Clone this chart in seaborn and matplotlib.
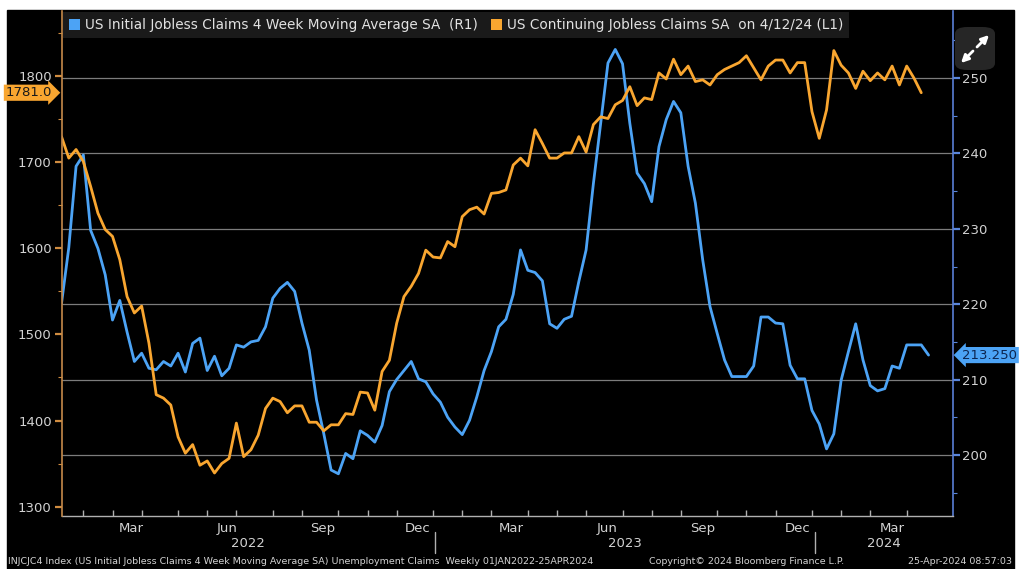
import pandas as pd
import matplotlib
matplotlib.use('Agg')
import matplotlib.pyplot as plt
from matplotlib.patches import Patch, Rectangle, FancyBboxPatch, FancyArrowPatch
from matplotlib.ticker import MultipleLocator
import matplotlib.transforms as mtransforms
import seaborn as sns

# weekly data, Fridays. continuing claims stop one week earlier (on 4/12/24)
dates = pd.date_range('2022-01-07', '2024-04-19', freq='W-FRI')

# US initial jobless claims, 4 week moving average SA (thousands) -> right axis
initial_4wk = [
    220.1, 227.5, 238.3, 239.8, 229.8, 227.4, 223.9, 217.9, 220.5, 216.3,
    212.4, 213.5, 211.5, 211.3, 212.4, 211.8, 213.5, 211.0, 214.8, 215.5,
    211.2, 213.1, 210.5, 211.5, 214.6, 214.3, 215.0, 215.2, 217.0, 220.8,
    222.1, 222.9, 221.7, 217.5, 213.9, 207.3, 202.8, 198.0, 197.5, 200.2,
    199.5, 203.2, 202.6, 201.7, 203.9, 208.4, 210.0, 211.2, 212.4, 210.1,
    209.7, 208.1, 207.0, 205.0, 203.7, 202.7, 204.6, 207.7, 211.2, 213.7,
    217.0, 218.0, 221.3, 227.2, 224.5, 224.2, 223.1, 217.4, 216.8, 218.0,
    218.4, 223.0, 227.2, 236.0, 244.0, 252.0, 253.8, 251.9, 244.0, 237.4,
    236.0, 233.6, 240.9, 244.5, 246.9, 245.4, 238.3, 233.4, 225.9, 219.7,
    216.1, 212.6, 210.4, 210.4, 210.4, 211.8, 218.3, 218.3, 217.5, 217.4,
    211.9, 210.1, 210.1, 205.9, 204.1, 200.8, 202.8, 209.9, 213.7, 217.4,
    212.6, 209.2, 208.5, 208.8, 211.8, 211.5, 214.6, 214.6, 214.6, 213.25,
]

# US continuing jobless claims SA (thousands) -> left axis
continuing = [
    1730, 1705, 1715, 1701, 1672, 1641, 1622, 1614, 1587, 1544,
    1525, 1533, 1490, 1430, 1426, 1418, 1381, 1362, 1372, 1348,
    1353, 1339, 1350, 1356, 1397, 1358, 1366, 1383, 1414, 1426,
    1422, 1409, 1417, 1417, 1398, 1398, 1388, 1395, 1395, 1408,
    1407, 1433, 1432, 1412, 1457, 1470, 1513, 1544, 1556, 1571,
    1598, 1590, 1589, 1608, 1602, 1637, 1645, 1648, 1640, 1664,
    1665, 1668, 1697, 1705, 1696, 1738, 1722, 1705, 1705, 1711,
    1711, 1730, 1712, 1744, 1753, 1751, 1767, 1772, 1788, 1766,
    1775, 1773, 1804, 1797, 1820, 1802, 1812, 1794, 1796, 1790,
    1802, 1808, 1812, 1816, 1824, 1810, 1796, 1812, 1819, 1819,
    1804, 1816, 1816, 1759, 1728, 1761, 1830, 1813, 1804, 1786,
    1806, 1795, 1804, 1796, 1812, 1790, 1812, 1798, 1781,
]

month_labels = ['Mar', 'Jun', 'Sep', 'Dec'] * 2 + ['Mar']
years = [2022, 2023, 2024]

BLUE = '#4ca3f5'
ORANGE = '#f9a630'
TXT = '#d2d2d2'

sns.set_theme(style='dark')
plt.rcParams['font.family'] = ['DejaVu Sans']

fig = plt.figure(figsize=(10.24, 5.69), dpi=100, facecolor='white')
# black terminal panel, the screenshot has a thin white margin top/right
fig.patches.append(Rectangle((7 / 1024, 0), 1007 / 1024, 1 - 10 / 569,
                             transform=fig.transFigure, color='black', zorder=-5))

ax = fig.add_axes([61.5 / 1024, 1 - 516 / 569, 891 / 1024, 505 / 569])
ax.set_facecolor('black')
ax2 = ax.twinx()

sns.lineplot(x=dates, y=initial_4wk, ax=ax, color=BLUE, linewidth=2.0)
sns.lineplot(x=dates[:-1], y=continuing, ax=ax2, color=ORANGE, linewidth=2.0)

ax.set_xlim(dates[0], dates[-1] + pd.Timedelta(days=23))
ax.set_ylim(191.9, 258.9)
ax2.set_ylim(1289, 1876)
ax.set_xlabel('')
ax.set_ylabel('')
ax2.set_ylabel('')

# right axis (R1) belongs to the blue series, grid follows it
ax.yaxis.tick_right()
ax.set_yticks(range(200, 251, 10))
ax.yaxis.set_minor_locator(MultipleLocator(5))
ax.grid(False)
ax.grid(axis='y', which='major', color='#7c7c7c', linewidth=0.9)
ax.tick_params(axis='y', which='major', colors='#5a86dc', labelcolor=TXT,
               length=5, width=1.6, labelsize=9.5, pad=2)
ax.tick_params(axis='y', which='minor', colors='#5a86dc', length=3, width=0.8)

# left axis (L1) for the orange series
ax2.yaxis.tick_left()
ax2.set_yticks(range(1300, 1801, 100))
ax2.yaxis.set_minor_locator(MultipleLocator(50))
ax2.grid(False)
ax2.tick_params(axis='y', which='major', colors='#d08c40', labelcolor=TXT,
                length=5, width=1.6, labelsize=9.5, pad=2)
ax2.tick_params(axis='y', which='minor', colors='#d08c40', length=3, width=0.8)

for name, sp in ax.spines.items():
    sp.set_visible(name in ('bottom', 'right'))
for name, sp in ax2.spines.items():
    sp.set_visible(name == 'left')
ax.spines['right'].set_color('#5a7fd6')
ax.spines['bottom'].set_color('#b0b0b0')
ax2.spines['left'].set_color('#c58a4a')
ax.spines['right'].set_linewidth(1.2)
ax2.spines['left'].set_linewidth(1.2)
ax.spines['bottom'].set_linewidth(1.0)

# month ticks at the last weekly point of each month, labels mid month
month_ends = dates.to_series().groupby(dates.to_period('M')).max()
ax.set_xticks(month_ends.values[:-1], minor=True)
mids = pd.date_range('2022-03-15', '2024-03-15', freq=pd.DateOffset(months=3))
ax.set_xticks(mids)
ax.set_xticklabels(month_labels)
ax.tick_params(axis='x', which='major', length=0, labelcolor=TXT, labelsize=9.5, pad=4)
ax.tick_params(axis='x', which='minor', direction='in', length=4, width=1.0,
               colors='#b0b0b0', bottom=True)

# year row under the months
trans = mtransforms.blended_transform_factory(ax.transData, ax.transAxes)
for yr in years:
    a = max(pd.Timestamp(f'{yr}-01-01'), dates[0])
    b = min(pd.Timestamp(f'{yr}-12-31'), dates[-1] + pd.Timedelta(days=23))
    mid = a + (b - a) / 2
    ax.text(mid, -0.054, str(yr), transform=trans, ha='center', va='center',
            color=TXT, fontsize=9.5)
    if yr > years[0]:
        ax.plot([pd.Timestamp(f'{yr}-01-01')] * 2, [-0.032, -0.074], transform=trans,
                color='#b0b0b0', linewidth=1.0, clip_on=False)

# last value tags
ax2.annotate(f'{continuing[-1]:.1f}', xy=(0, continuing[-1]),
             xycoords=('axes fraction', 'data'), xytext=(-7, 0),
             textcoords='offset points', ha='right', va='center', fontsize=9.5,
             color='#1a1a1a', annotation_clip=False,
             bbox=dict(boxstyle='rarrow,pad=0.12', fc=ORANGE, ec='none'))
ax.annotate(f'{initial_4wk[-1]:.3f}', xy=(1, initial_4wk[-1]),
            xycoords=('axes fraction', 'data'), xytext=(7, 0),
            textcoords='offset points', ha='left', va='center', fontsize=9.5,
            color='#0c2550', annotation_clip=False,
            bbox=dict(boxstyle='larrow,pad=0.12', fc=BLUE, ec='none'))

# legend strip at the top
handles = [Patch(fc=BLUE, ec='none'), Patch(fc=ORANGE, ec='none')]
labels = ['US Initial Jobless Claims 4 Week Moving Average SA  (R1)',
          'US Continuing Jobless Claims SA  on 4/12/24 (L1)']
leg = ax2.legend(handles, labels, loc='upper left', bbox_to_anchor=(0.0015, 0.998),
                 ncol=2, frameon=True, facecolor='#1a1a1a', edgecolor='none',
                 framealpha=1, fancybox=False, fontsize=9.8, labelcolor='#e2e2e2',
                 handlelength=0.8, handleheight=0.9, handletextpad=0.35,
                 columnspacing=1.0, borderpad=0.45, borderaxespad=0)

# expand button overlay from the screenshot (drawn as shapes)
W, H = 1024, 569
fig.patches.append(FancyBboxPatch((955 / W, 1 - 70 / H), 40 / W, 43 / H,
                                  boxstyle='round,pad=0,rounding_size=0.012',
                                  transform=fig.transFigure, fc='#262626', ec='none'))
for (xa, ya), (xb, yb) in [((977, 47), (989, 35)), ((973, 51), (961, 63))]:
    fig.patches.append(FancyArrowPatch((xa / W, 1 - ya / H), (xb / W, 1 - yb / H),
                                       transform=fig.transFigure, arrowstyle='-|>',
                                       mutation_scale=11, color='white', linewidth=2.0,
                                       shrinkA=0, shrinkB=0))

# footer
fig.text(8 / 1024, 1 - 562 / 569, 'INJCJC4 Index (US Initial Jobless Claims 4 Week Moving '
         'Average SA) Unemployment Claims  Weekly 01JAN2022-25APR2024',
         ha='left', va='center', fontsize=6.8, color=TXT)
fig.text(747 / 1024, 1 - 562 / 569, 'Copyright\u00a9 2024 Bloomberg Finance L.P.',
         ha='center', va='center', fontsize=6.8, color=TXT)
fig.text(1012 / 1024, 1 - 562 / 569, '25-Apr-2024 08:57:03',
         ha='right', va='center', fontsize=6.8, color=TXT)

fig.savefig('out.png', dpi=100, facecolor='white')
